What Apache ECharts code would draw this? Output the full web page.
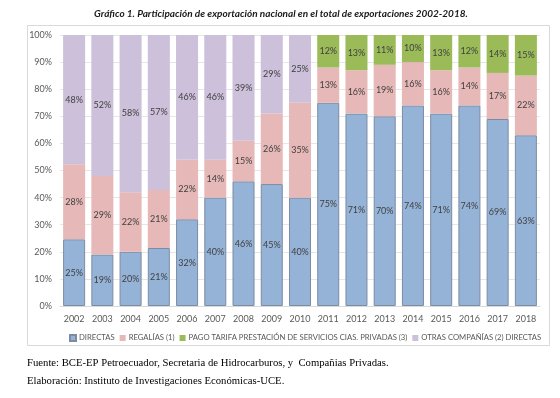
<!DOCTYPE html>
<html>
<head>
<meta charset="utf-8">
<script src="https://cdn.jsdelivr.net/npm/echarts@6/dist/echarts.min.js"></script>
<style>
html, body { margin: 0; padding: 0; background: #fff; }
#chart { width: 560px; height: 398px; }
</style>
</head>
<body>
<div id="chart"></div>
<script>
// datos (porcentaje del total)
var years = ['2002', '2003', '2004', '2005', '2006', '2007', '2008', '2009', '2010',
	'2011', '2012', '2013', '2014', '2015', '2016', '2017', '2018'];
var directas = [24.6, 19, 20, 21.4, 32, 40, 46, 45, 40, 75, 71, 70, 74, 71, 74, 69, 63];
var regalias = [27.7, 29, 22, 21.4, 22, 14, 15, 26, 35, 13, 16, 19, 16, 16, 14, 17, 22];
var pagoTarifa = [0, 0, 0, 0, 0, 0, 0, 0, 0, 12, 13, 11, 10, 13, 12, 14, 15];
var otras = [47.7, 52, 58, 57.2, 46, 46, 39, 29, 25, 0, 0, 0, 0, 0, 0, 0, 0];
var yTicks = [0, 10, 20, 30, 40, 50, 60, 70, 80, 90, 100];

var chartDom = document.getElementById('chart');
var myChart = echarts.init(chartDom);

function lbl() {
	return {
		show: true,
		position: 'inside',
		fontSize: 9,
		color: '#404040',
		fontFamily: 'Lato',
		formatter: function (p) {
			return p.value ? Math.round(p.value) + '%' : '';
		}
	};
}

var option = {
	animation: false,
	backgroundColor: '#fff',
	title: {
		text: 'Gráfico 1. Participación de exportación nacional en el total de exportaciones 2002-2018.',
		left: 276,
		textAlign: 'center',
		top: 4,
		textStyle: {
			fontSize: 10,
			fontStyle: 'italic',
			fontWeight: 'bold',
			fontFamily: 'Lato',
			color: '#1a1a1a'
		}
	},
	graphic: [
		{
			type: 'rect',
			shape: { x: 27.5, y: 25.5, width: 522, height: 320 },
			style: { fill: 'none', stroke: '#d9d9d9', lineWidth: 1 },
			z: -1
		},
		{
			type: 'text',
			left: 27,
			top: 358,
			style: {
				text: 'Fuente: BCE-EP Petroecuador, Secretaria de Hidrocarburos, y  Compañias Privadas.',
				font: '10.7px "Liberation Serif"',
				fill: '#000'
			}
		},
		{
			type: 'text',
			left: 27,
			top: 376,
			style: {
				text: 'Elaboración: Instituto de Investigaciones Económicas-UCE.',
				font: '10.7px "Liberation Serif"',
				fill: '#000'
			}
		}
	],
	legend: {
		top: 329,
		left: 64,
		itemWidth: 6,
		itemHeight: 6,
		itemGap: 5,
		icon: 'rect',
		textStyle: { fontSize: 7.7, color: '#595959', fontFamily: 'Lato', padding: [0, 0, 0, -2] },
		data: ['DIRECTAS', 'REGALÍAS (1)', 'PAGO TARIFA PRESTACIÓN DE SERVICIOS CIAS. PRIVADAS (3)', 'OTRAS COMPAÑÍAS (2) DIRECTAS']
	},
	grid: {
		left: 60,
		right: 20,
		top: 35,
		bottom: 92
	},
	xAxis: {
		type: 'category',
		data: years,
		axisTick: { show: false },
		axisLine: { lineStyle: { color: '#d9d9d9' } },
		axisLabel: { fontSize: 9, color: '#595959', margin: 9, fontFamily: 'Lato' }
	},
	yAxis: {
		type: 'value',
		min: 0,
		max: 100,
		interval: 10,
		axisLabel: {
			fontSize: 9,
			color: '#595959',
			fontFamily: 'Lato',
			margin: 8,
			formatter: function (v) { return yTicks.indexOf(v) > -1 ? v + '%' : ''; }
		},
		splitLine: { lineStyle: { color: '#e6e6e6' } }
	},
	series: [
		{
			name: 'DIRECTAS',
			type: 'bar',
			stack: 'total',
			barCategoryGap: '22%',
			itemStyle: { color: '#95b3d7', borderColor: '#7b8ca3', borderWidth: 1 },
			label: lbl(),
			data: directas
		},
		{
			name: 'REGALÍAS (1)',
			type: 'bar',
			stack: 'total',
			itemStyle: { color: '#e6b9b8' },
			label: lbl(),
			data: regalias
		},
		{
			name: 'PAGO TARIFA PRESTACIÓN DE SERVICIOS CIAS. PRIVADAS (3)',
			type: 'bar',
			stack: 'total',
			itemStyle: { color: '#9bbb59' },
			label: lbl(),
			data: pagoTarifa
		},
		{
			name: 'OTRAS COMPAÑÍAS (2) DIRECTAS',
			type: 'bar',
			stack: 'total',
			itemStyle: { color: '#ccc0da' },
			label: lbl(),
			data: otras
		}
	]
};

option && myChart.setOption(option);
</script>
</body>
</html>
